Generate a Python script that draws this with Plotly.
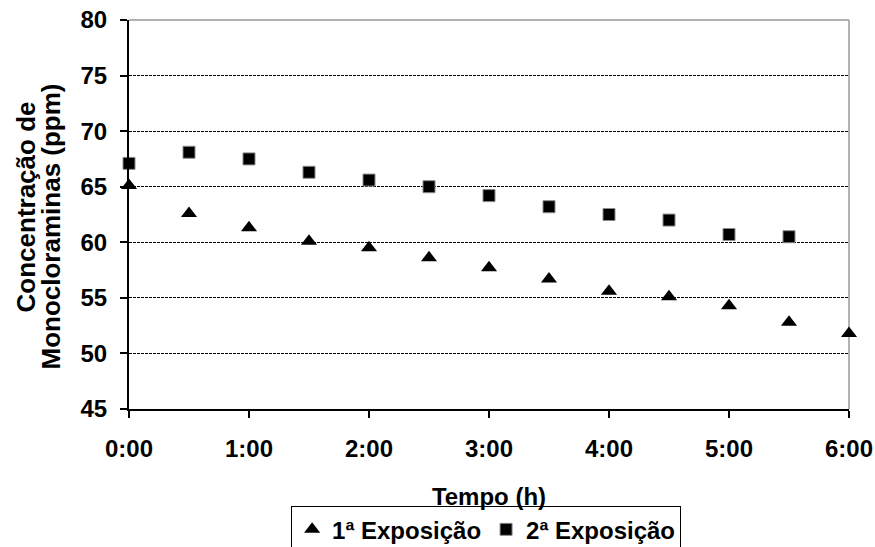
import plotly.graph_objects as go

# Time points in hours (plotted on a numeric axis, labelled as h:mm)
tempo_1 = [0, 0.5, 1, 1.5, 2, 2.5, 3, 3.5, 4, 4.5, 5, 5.5, 6]
tempo_2 = [0, 0.5, 1, 1.5, 2, 2.5, 3, 3.5, 4, 4.5, 5, 5.5]

# Monochloramine concentration (ppm)
exposicao_1 = [65.1, 62.6, 61.3, 60.1, 59.5, 58.6, 57.7, 56.7, 55.6, 55.1, 54.3, 52.8, 51.8]
exposicao_2 = [67.1, 68.1, 67.5, 66.3, 65.6, 65.0, 64.2, 63.2, 62.5, 62.0, 60.7, 60.5]

tick_vals = [0, 1, 2, 3, 4, 5, 6]
tick_text = ["0:00", "1:00", "2:00", "3:00", "4:00", "5:00", "6:00"]

FONT = "Liberation Sans, Arial, sans-serif"
FS = 24
FS_YTITLE = 26

fig = go.Figure()

fig.add_trace(go.Scatter(
    x=tempo_1, y=exposicao_1, mode="markers", name="1ª Exposição",
    marker=dict(symbol="triangle-up", size=14, color="black",
                line=dict(color="black", width=0)),
    cliponaxis=False,
))
fig.add_trace(go.Scatter(
    x=tempo_2, y=exposicao_2, mode="markers", name="2ª Exposição",
    marker=dict(symbol="square", size=12, color="black",
                line=dict(color="#8a8a8a", width=1)),
    cliponaxis=False,
))

fig.update_layout(
    width=875, height=547,
    margin=dict(l=129, r=26, t=20, b=138, autoexpand=False),
    paper_bgcolor="white", plot_bgcolor="white",
    font=dict(family=FONT, size=FS, color="black", weight="bold"),
    showlegend=True,
    legend=dict(
        orientation="h", x=0.496, xanchor="center", y=-0.25, yanchor="top",
        bordercolor="black", borderwidth=1, bgcolor="white",
        font=dict(size=FS, weight="bold"), itemwidth=30,
        tracegroupgap=0,
    ),
)

fig.update_xaxes(
    range=[0, 6], tickvals=tick_vals, ticktext=tick_text,
    showline=True, linecolor="black", linewidth=2,
    ticks="outside", ticklen=7, tickwidth=1.5, tickcolor="black",
    ticklabelstandoff=10,
    showgrid=False, zeroline=False, automargin=False,
    title=dict(text="Tempo (h)", font=dict(size=FS, weight="bold"), standoff=27),
)
fig.update_yaxes(
    range=[45, 80], dtick=5,
    showline=True, linecolor="black", linewidth=2,
    ticks="outside", ticklen=7, tickwidth=1.5, tickcolor="black",
    ticklabelstandoff=8,
    showgrid=True, gridcolor="black", gridwidth=1, griddash="3px,1px",
    zeroline=False, automargin=False,
)

# Two-line y-axis title, one rotated line each
fig.add_annotation(text="Concentração de", xref="paper", yref="paper",
                   x=-0.1417, y=0.5206, xanchor="center", yanchor="middle",
                   textangle=-90, showarrow=False,
                   font=dict(size=FS_YTITLE, weight="bold"))
fig.add_annotation(text="Monocloraminas (ppm)", xref="paper", yref="paper",
                   x=-0.1083, y=0.4692, xanchor="center", yanchor="middle",
                   textangle=-90, showarrow=False,
                   font=dict(size=FS_YTITLE, weight="bold"))

# Grey frame on the top and right edges of the plot area
fig.add_shape(type="line", xref="paper", yref="paper", x0=0, x1=1, y0=1, y1=1,
              line=dict(color="#999999", width=1.5), layer="between")
fig.add_shape(type="line", xref="paper", yref="paper", x0=1, x1=1, y0=0, y1=1,
              line=dict(color="#999999", width=1.5), layer="between")

fig.write_html("out.html")
